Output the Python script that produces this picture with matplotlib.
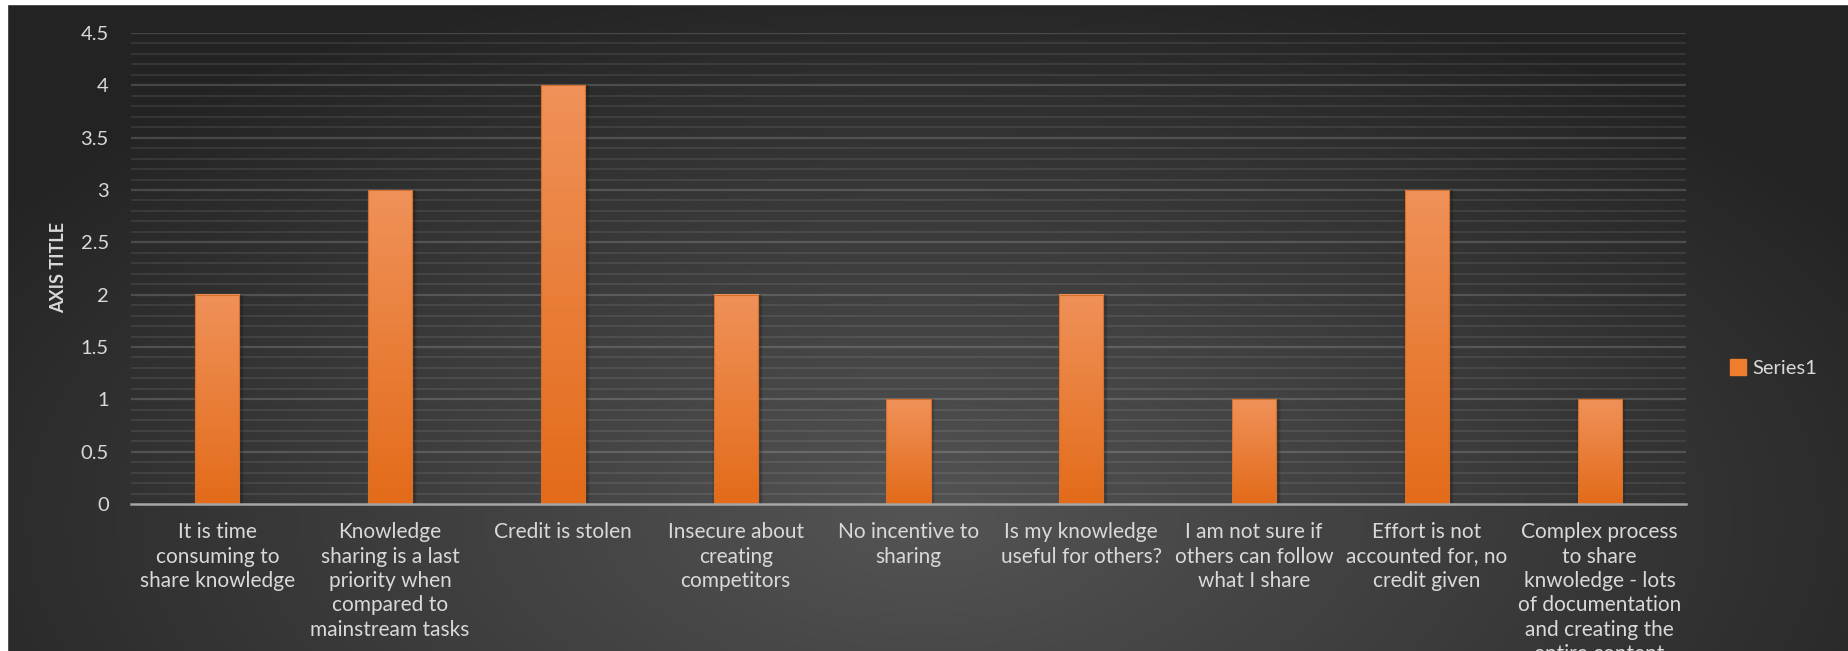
import matplotlib.pyplot as plt
import matplotlib.patches as mpatches
import numpy as np

categories = [
    'It is time\nconsuming to\nshare knowledge',
    'Knowledge\nsharing is a last\npriority when\ncompared to\nmainstream tasks',
    'Credit is stolen',
    'Insecure about\ncreating\ncompetitors',
    'No incentive to\nsharing',
    'Is my knowledge\nuseful for others?',
    'I am not sure if\nothers can follow\nwhat I share',
    'Effort is not\naccounted for, no\ncredit given',
    'Complex process\nto share\nknwoledge - lots\nof documentation\nand creating the\nentire content',
]
series1 = [2, 3, 4, 2, 1, 2, 1, 3, 1]
yticks = [0, 0.5, 1, 1.5, 2, 2.5, 3, 3.5, 4, 4.5]

text_color = '#d9d9d9'
font = ['Lato', 'DejaVu Sans']
plt.rcParams['font.family'] = font

fig = plt.figure(figsize=(18.48, 6.51), dpi=100)

# radial background gradient
bg = fig.add_axes([0, 0, 1, 1], zorder=-10)
gx, gy = np.meshgrid(np.linspace(0, 1, 400), np.linspace(0, 1, 200))
dist = np.sqrt(((gx - 0.5) / 0.7) ** 2 + ((gy - 0.8) / 1.0) ** 2)
val = np.clip(0.33 - 0.22 * dist, 0.14, 0.34)
bg.imshow(np.dstack([val, val, val]), extent=[0, 1, 0, 1], aspect='auto',
          interpolation='bicubic')
bg.set_xlim(0, 1)
bg.set_ylim(0, 1)
bg.axis('off')
# white border strips from the screenshot
bg.add_patch(mpatches.Rectangle((0, 0), 7 / 1848, 1, color='white', zorder=5))
bg.add_patch(mpatches.Rectangle((0, 1 - 4 / 651), 1, 4 / 651, color='white', zorder=5))

ax = fig.add_axes([131 / 1848, 1 - 504 / 651, (1686 - 131) / 1848, (504 - 33) / 651])
ax.patch.set_alpha(0)

x = np.arange(len(categories))
width = 0.255

# gridlines: major every 0.5, minor every 0.1
for v in np.arange(0.1, 4.51, 0.1):
    major = abs(v * 2 - round(v * 2)) < 1e-6
    ax.axhline(v, color='white', alpha=0.16 if major else 0.09,
               lw=1.6 if major else 1.3, zorder=0)

# soft shadows
for k, a in [(6, 0.06), (4, 0.08), (2, 0.12)]:
    ax.bar(x + 0.01, series1, width=width + k * 0.006, color='black', alpha=a,
           zorder=1)

bars = ax.bar(x, series1, width=width, color='#ee8235', edgecolor='#d86a20',
              lw=0.8, zorder=2)
grad = np.linspace(0, 1, 256).reshape(-1, 1)
top = np.array([0.94, 0.57, 0.35])
bot = np.array([0.89, 0.42, 0.10])
img = top + (bot - top) * grad[:, :, None]
for b in bars:
    xb, yb, wb, hb = b.get_x(), b.get_y(), b.get_width(), b.get_height()
    ax.imshow(img, extent=[xb, xb + wb, yb, yb + hb], aspect='auto', zorder=3,
              interpolation='bilinear')
    ax.add_patch(mpatches.Rectangle((xb, yb), wb, hb, fill=False,
                                    edgecolor='#d2702c', lw=0.8, zorder=4))

ax.set_xlim(-0.5, len(categories) - 0.5)
ax.set_ylim(0, 4.5)
ax.set_yticks(yticks)
ax.set_yticklabels(['0', '0.5', '1', '1.5', '2', '2.5', '3', '3.5', '4', '4.5'])
ax.set_xticks(x)
ax.set_xticklabels(categories, fontsize=15, color=text_color,
                   linespacing=1.28, va='top')
ax.tick_params(axis='y', length=0, pad=16, labelsize=14.5, labelcolor=text_color)
ax.tick_params(axis='x', length=0, pad=13)
for s in ['top', 'right', 'left']:
    ax.spines[s].set_visible(False)
ax.spines['bottom'].set_color('#a6a6a6')
ax.spines['bottom'].set_linewidth(1.8)
ax.spines['bottom'].set_zorder(5)

fig.text(59 / 1848, 1 - 268 / 651, 'AXIS TITLE', rotation=90, ha='center',
         va='center', fontsize=13, fontweight='bold', color=text_color)

handle = mpatches.Patch(facecolor='#ee7d2e', edgecolor='#ee7d2e', label='Series1')
fig.legend(handles=[handle], loc='center left',
           bbox_to_anchor=(1712 / 1848, 1 - 368 / 651), frameon=False,
           fontsize=14.5, labelcolor=text_color, handlelength=0.8,
           handleheight=0.8, handletextpad=0.3)

fig.savefig('out.png', dpi=100)
